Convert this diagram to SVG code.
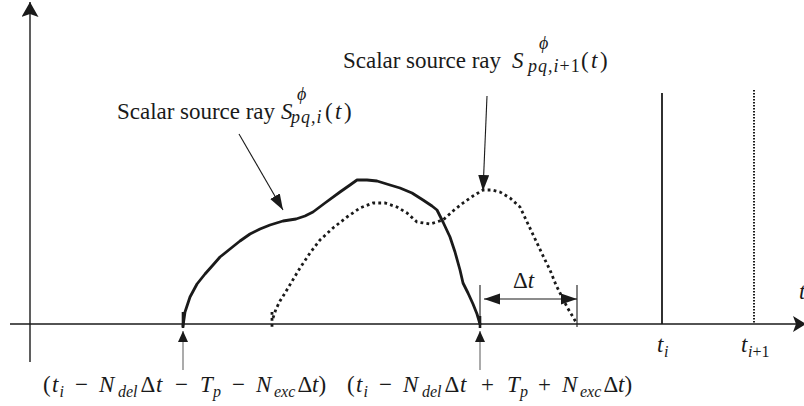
<svg xmlns="http://www.w3.org/2000/svg" width="804" height="406" viewBox="0 0 804 406">
<style>
text { font-family: "Liberation Serif", "Times New Roman", serif; fill: #1a1a1a; font-size: 23px; }
.i { font-style: italic; }
.s { font-size: 16px; font-style: italic; }
.ss { font-size: 18px; font-style: italic; letter-spacing: 1px; }
.ax { stroke: #1a1a1a; stroke-width: 1.4; fill: none; }
.solid { stroke: #1a1a1a; stroke-width: 2.8; fill: none; stroke-linejoin: round; stroke-linecap: round; }
.dot { stroke: #1a1a1a; stroke-width: 2.8; fill: none; stroke-dasharray: 2.8 3.2; }
.fine { stroke: #1a1a1a; stroke-width: 2; fill: none; stroke-dasharray: 1.6 1.4; }
.thin { stroke: #1a1a1a; stroke-width: 1.1; fill: none; }
.gray { stroke: #666; stroke-width: 1.1; fill: none; }
.tick { stroke: #1a1a1a; stroke-width: 2.6; fill: none; }
</style>
<defs>
<marker id="axY" markerUnits="userSpaceOnUse" markerWidth="16" markerHeight="18" refX="15" refY="8.5" orient="auto">
<path d="M0,0 L15,8.5 L0,17 L3,8.5 Z" fill="#1a1a1a"/>
</marker>
<marker id="axX" markerUnits="userSpaceOnUse" markerWidth="14" markerHeight="17" refX="13" refY="8" orient="auto">
<path d="M0,0 L13,8 L0,16 L3,8 Z" fill="#1a1a1a"/>
</marker>
<marker id="ah" markerUnits="userSpaceOnUse" markerWidth="17" markerHeight="12" refX="16" refY="5.5" orient="auto-start-reverse">
<path d="M0,0 L16,5.5 L0,11 Z" fill="#1a1a1a"/>
</marker>
<marker id="ahS" markerUnits="userSpaceOnUse" markerWidth="12" markerHeight="11" refX="11" refY="5" orient="auto">
<path d="M0,0 L11,5 L0,10 Z" fill="#1a1a1a"/>
</marker>
</defs>

<g id="axes">
<line class="ax" x1="30" y1="362" x2="30" y2="2" marker-end="url(#axY)"/>
<line class="ax" x1="10" y1="324" x2="806" y2="324" marker-end="url(#axX)"/>
<text id="axis-t" class="i" x="799" y="299">t</text>
</g>

<g id="curve-i">
<polyline class="solid" points="183,326 185,312 190,297 197,284 205,274 213,265 220,257 230,249 240,241 250,234 260,229 270,225 283,221 296,219 305,216 313,212 325,203 340,192 350,185 357,180 367,180 377,181 390,185 400,188 412,193 423,200 432,206 437,210 443,222 450,237 455,252 460,270 463,283 468,293 473,304 477,314 480,324"/>
<line class="tick" x1="183" y1="312" x2="183" y2="328"/>
</g>

<g id="curve-i1">
<polyline class="dot" points="273,318 276,309 280,301 285,293 291,283 300,268 310,253 320,240 333,228 347,217 360,208 373,203 385,203 397,207 407,213 417,222 430,224 443,220 453,211 463,203 473,196 483,190 492,190 500,192 510,198 520,207 528,224 537,243 545,260 550,270 556,285 560,293 567,307 573,317 577,324"/>
<line class="dot" x1="272" y1="312" x2="272" y2="328"/>
</g>

<g id="spike-i">
<line x1="662" y1="93" x2="662" y2="324" stroke="#1a1a1a" stroke-width="1.8"/>
<text x="657" y="352" class="i">t</text>
<text x="664" y="357" class="s">i</text>
</g>

<g id="spike-i1">
<line class="fine" x1="754" y1="90" x2="754" y2="324"/>
<text x="741" y="352" class="i">t</text>
<text x="748" y="357" class="s">i<tspan font-style="normal">+1</tspan></text>
</g>

<g id="delta-t">
<line class="thin" x1="480" y1="285" x2="480" y2="328"/>
<line class="tick" x1="480" y1="316" x2="480" y2="328"/>
<line class="thin" x1="577" y1="285" x2="577" y2="327"/>
<text x="513" y="288">Δ<tspan class="i">t</tspan></text>
</g>

<g id="label-i">
<text x="117" y="119" textLength="158" lengthAdjust="spacing">Scalar source ray</text>
<text x="281" y="119" class="i">S</text>
<text x="297" y="100" class="ss">ϕ</text>
<text x="291" y="123" class="ss">pq,i</text>
<text y="119"><tspan x="325">(</tspan><tspan x="335" class="i">t</tspan><tspan x="344">)</tspan></text>
</g>

<g id="label-i1">
<text x="343" y="68" textLength="158" lengthAdjust="spacing">Scalar source ray</text>
<text x="512" y="68" class="i">S</text>
<text x="539" y="49" class="ss">ϕ</text>
<text x="528" y="72" class="ss">pq,i<tspan font-style="normal">+1</tspan></text>
<text y="68"><tspan x="581">(</tspan><tspan x="591" class="i">t</tspan><tspan x="600">)</tspan></text>
</g>

<g id="label-start">
<text y="392"><tspan x="43">(</tspan><tspan x="52" class="i">t</tspan><tspan x="59.5" y="397" class="s">i</tspan><tspan x="75" y="392">−</tspan><tspan x="99" class="i">N</tspan><tspan x="118" y="397" class="s">del</tspan><tspan x="140.5" y="392">Δ</tspan><tspan x="156" class="i">t</tspan><tspan x="175">−</tspan><tspan x="200" class="i">T</tspan><tspan x="213" y="397" class="s">p</tspan><tspan x="232" y="392">−</tspan><tspan x="256" class="i">N</tspan><tspan x="274" y="397" class="s">exc</tspan><tspan x="297.5" y="392">Δ</tspan><tspan x="312" class="i">t</tspan><tspan x="318.5">)</tspan></text>
</g>

<g id="label-end">
<text y="392"><tspan x="347">(</tspan><tspan x="356" class="i">t</tspan><tspan x="363.5" y="397" class="s">i</tspan><tspan x="379" y="392">−</tspan><tspan x="403" class="i">N</tspan><tspan x="422" y="397" class="s">del</tspan><tspan x="444.5" y="392">Δ</tspan><tspan x="460" class="i">t</tspan><tspan x="481">+</tspan><tspan x="507" class="i">T</tspan><tspan x="520" y="397" class="s">p</tspan><tspan x="538" y="392">+</tspan><tspan x="562" class="i">N</tspan><tspan x="580" y="397" class="s">exc</tspan><tspan x="603.5" y="392">Δ</tspan><tspan x="618" class="i">t</tspan><tspan x="624.5">)</tspan></text>
</g>

<g id="connectors">
<line class="thin" x1="239" y1="134" x2="283" y2="210" marker-end="url(#ah)"/>
<line class="thin" x1="487" y1="96" x2="483" y2="191" marker-end="url(#ah)"/>
<line class="thin" x1="484" y1="299" x2="577" y2="299" marker-start="url(#ah)" marker-end="url(#ah)"/>
<line class="gray" x1="183" y1="370" x2="183" y2="331" marker-end="url(#ahS)"/>
<line class="gray" x1="480" y1="370" x2="480" y2="331" marker-end="url(#ahS)"/>
</g>
</svg>
